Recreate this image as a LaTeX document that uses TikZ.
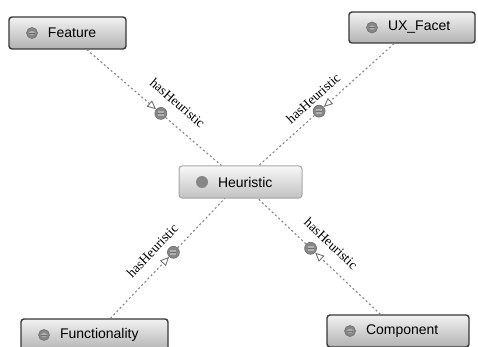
\documentclass[tikz,border=0pt]{standalone}
\usepackage{fontspec}
\usetikzlibrary{arrows.meta}
\newfontfamily\boxfont{Liberation Sans}
\newfontfamily\relfont{Liberation Serif}
\definecolor{edgegray}{HTML}{858585}
\definecolor{tipgray}{HTML}{727272}
\definecolor{dotfill}{HTML}{878787}
\definecolor{dotline}{HTML}{6E6E6E}
\definecolor{barfill}{HTML}{B0B0B0}
\newcommand\classtext[2]{\makebox[#1][l]{\hspace{39pt}#2}}
\tikzset{
  classbox/.style={draw=black!78, line width=1.4pt, rounded corners=3pt,
    top color=black!5, bottom color=black!30, inner sep=0pt,
    minimum height=32pt, font=\boxfont\fontsize{14}{16}\selectfont,
    path picture={
      \coordinate (ic) at ([xshift=23pt]path picture bounding box.west);
      \fill[dotfill, draw=dotline, line width=0.6pt] (ic) circle (5.5pt);
      \fill[barfill] ([shift={(-3pt,-2.2pt)}]ic) rectangle ([shift={(3pt,2.2pt)}]ic);
      \draw[dotline, line width=0.7pt] ([xshift=-3pt]ic) -- ([xshift=3pt]ic);
    }},
  centrebox/.style={draw=black!35, line width=1pt, rounded corners=3pt,
    top color=black!3, bottom color=black!24, inner sep=0pt,
    minimum height=32pt, font=\boxfont\fontsize{14}{16}\selectfont,
    path picture={
      \fill[dotfill] ([xshift=23pt]path picture bounding box.west) circle (6pt);
    }},
  propdot/.style={circle, fill=dotfill, draw=dotline, line width=0.6pt,
    minimum size=12pt, inner sep=0pt,
    path picture={
      \fill[barfill] ([shift={(-3pt,-2.4pt)}]path picture bounding box.center)
        rectangle ([shift={(3pt,2.4pt)}]path picture bounding box.center);
      \draw[dotline, line width=0.7pt]
        ([xshift=-3pt]path picture bounding box.center) --
        ([xshift=3pt]path picture bounding box.center);
    }},
  reledge/.style={edgegray, line width=1.1pt, dash pattern=on 2pt off 2.5pt},
  reltip/.style={reledge, arrows={-{Triangle[open, length=9pt, width=8pt, line width=0.9pt, color=tipgray]}}},
  rellabel/.style={sloped, inner sep=0pt, font=\relfont\fontsize{13.5}{15}\selectfont}
}
\begin{document}
\begin{tikzpicture}[x=1pt, y=-1pt]
  \useasboundingbox (0,0) rectangle (478,347);
  \begin{scope}
    \clip (0,0) rectangle (478,347);

    % classes
    \node[centrebox] (heur) at (240.5,182) {\classtext{123pt}{Heuristic}};
    \node[classbox] (feature) at (67.5,33) {\classtext{117pt}{Feature}};
    \node[classbox, minimum height=31pt] (ux) at (412,27.5) {\classtext{126pt}{UX\_Facet}};
    \node[classbox] (func) at (94.5,335) {\classtext{147pt}{Functionality}};
    \node[classbox] (comp) at (398,331) {\classtext{142pt}{Component}};

    % property markers and labels on the links
    \path (feature) -- (heur) node[pos=0.55, propdot] (pf) {}
      node[pos=0.583, rellabel, above=14pt] (lf) {hasHeuristic};
    \path (ux) -- (heur) node[pos=0.554, propdot] (pu) {}
      node[pos=0.531, rellabel, above=8.5pt] (lu) {hasHeuristic};
    \path (func) -- (heur) node[pos=0.551, propdot] (pfn) {}
      node[pos=0.47, rellabel, above=11.5pt] (lfn) {hasHeuristic};
    \path (comp) -- (heur) node[pos=0.57, propdot] (pc) {}
      node[pos=0.50, rellabel, above=12.5pt] (lc) {hasHeuristic};

    % links: subject to marker (open arrow), marker to Heuristic
    \draw[reltip] (feature) -- (pf);
    \draw[reledge] (pf) -- (heur);
    \draw[reltip] (ux) -- (pu);
    \draw[reledge] (pu) -- (heur);
    \draw[reltip] (func) -- (pfn);
    \draw[reledge] (pfn) -- (heur);
    \draw[reltip] (comp) -- (pc);
    \draw[reledge] (pc) -- (heur);
  \end{scope}
\end{tikzpicture}
\end{document}
